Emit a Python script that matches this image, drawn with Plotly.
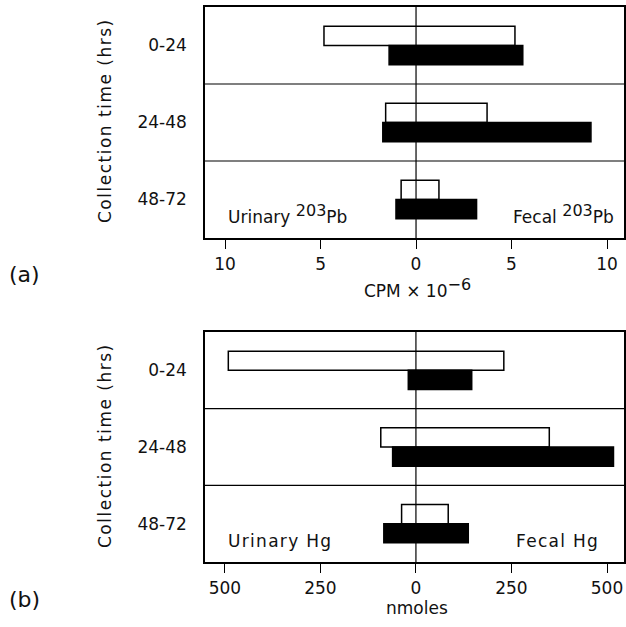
import plotly.graph_objects as go

# ---------------- data ----------------
periods = ["0-24", "24-48", "48-72"]

# panel (a): CPM x 10^-6  (urinary plotted to the left, fecal to the right)
pb_open_urinary = [4.82, 1.59, 0.78]
pb_open_fecal = [5.18, 3.72, 1.20]
pb_filled_urinary = [1.41, 1.74, 1.05]
pb_filled_fecal = [5.59, 9.16, 3.17]

# panel (b): nmoles
hg_open_urinary = [491, 92, 37.5]
hg_open_fecal = [230, 349, 84.5]
hg_filled_urinary = [20, 61, 84]
hg_filled_fecal = [146, 517, 137]

ticks_a = [-10, -5, 0, 5, 10]
ticklabels_a = ["10", "5", "0", "5", "10"]
ticks_b = [-500, -250, 0, 250, 500]
ticklabels_b = ["500", "250", "0", "250", "500"]

FONT = "DejaVu Sans"
TXT = "#111111"
W, H = 626, 627


def px(xp):
    return xp / W


def py(yp):
    return 1 - yp / H


fig = go.Figure()


def add_pair(urin_o, fec_o, urin_f, fec_f, xa, ya):
    fig.add_trace(go.Bar(
        orientation="h", y=periods,
        x=[u + f for u, f in zip(urin_o, fec_o)],
        base=[-u for u in urin_o],
        width=0.25, offset=-0.25,
        marker=dict(color="white", line=dict(color="black", width=1.5)),
        xaxis=xa, yaxis=ya, showlegend=False, hoverinfo="skip"))
    fig.add_trace(go.Bar(
        orientation="h", y=periods,
        x=[u + f for u, f in zip(urin_f, fec_f)],
        base=[-u for u in urin_f],
        width=0.25, offset=0.0,
        marker=dict(color="black", line=dict(color="black", width=1.5)),
        xaxis=xa, yaxis=ya, showlegend=False, hoverinfo="skip"))


add_pair(pb_open_urinary, pb_open_fecal, pb_filled_urinary, pb_filled_fecal, "x", "y")
add_pair(hg_open_urinary, hg_open_fecal, hg_filled_urinary, hg_filled_fecal, "x2", "y2")

xdom = [px(205), px(624)]
tickfont = dict(family=FONT, size=17, color=TXT)

xcommon = dict(domain=xdom, showline=True, mirror=True, linecolor="black", linewidth=1.5,
               ticks="outside", ticklen=9, tickwidth=1.2, tickcolor="black",
               showgrid=False, zeroline=False, tickfont=tickfont, ticklabelstandoff=1,
               fixedrange=True)
ycommon = dict(type="category", categoryorder="array", categoryarray=periods,
               range=[2.5, -0.5], showline=True, mirror=True, linecolor="black",
               linewidth=1.5, ticks="", showgrid=False, zeroline=False,
               tickfont=tickfont, ticklabelstandoff=13, fixedrange=True)

fig.update_layout(
    width=W, height=H, margin=dict(l=0, r=0, t=0, b=0),
    paper_bgcolor="white", plot_bgcolor="white", barmode="overlay",
    xaxis=dict(xcommon, anchor="y", range=[-11.05, 10.89], tickvals=ticks_a, ticktext=ticklabels_a),
    yaxis=dict(ycommon, anchor="x", domain=[py(238), py(7)]),
    xaxis2=dict(xcommon, anchor="y2", range=[-552, 544.5], tickvals=ticks_b, ticktext=ticklabels_b),
    yaxis2=dict(ycommon, anchor="x2", domain=[py(562), py(332)]),
)

shapes = []
for xr, yr in (("x", "y"), ("x2", "y2")):
    shapes.append(dict(type="line", xref=xr, yref=yr + " domain", x0=0, x1=0, y0=0, y1=1,
                       line=dict(color="black", width=1.2), layer="above"))
    for yv in (0.5, 1.5):
        shapes.append(dict(type="line", xref=xr + " domain", yref=yr, x0=0, x1=1, y0=yv, y1=yv,
                           line=dict(color="black", width=1.2), layer="above"))
fig.update_layout(shapes=shapes)

sup = "<sup><span style='font-size:16px'>{}</span></sup>"
lab_font = dict(family=FONT, size=17, color=TXT)
title_font = dict(family=FONT, size=17, color=TXT)
wide = "<span style='letter-spacing:1.3px'>{}</span>"

ann = []
for off in (0, 325):
    ann.append(dict(text="<span style='letter-spacing:1.5px'>Collection time (hrs)</span>",
                    textangle=-90, x=px(105), y=py(121 + off), xref="paper", yref="paper",
                    showarrow=False, font=title_font, xanchor="center", yanchor="middle"))
ann.append(dict(text="(a)", x=px(24), y=py(274), xref="paper", yref="paper", showarrow=False,
                font=dict(family=FONT, size=22, color=TXT), xanchor="center", yanchor="middle"))
ann.append(dict(text="(b)", x=px(24), y=py(599), xref="paper", yref="paper", showarrow=False,
                font=dict(family=FONT, size=22, color=TXT), xanchor="center", yanchor="middle"))
ann.append(dict(text="CPM × 10" + sup.format("−6"), x=px(417), y=py(288), xref="paper", yref="paper",
                showarrow=False, font=title_font, xanchor="center", yanchor="middle"))
ann.append(dict(text="nmoles", x=px(417), y=py(608), xref="paper", yref="paper",
                showarrow=False, font=title_font, xanchor="center", yanchor="middle"))
ann.append(dict(text="Urinary " + sup.format("203") + "Pb", x=px(226), y=py(214), xref="paper",
                yref="paper", showarrow=False, font=lab_font, xanchor="left", yanchor="middle"))
ann.append(dict(text="Fecal " + sup.format("203") + "Pb", x=px(616), y=py(214), xref="paper",
                yref="paper", showarrow=False, font=lab_font, xanchor="right", yanchor="middle"))
ann.append(dict(text=wide.format("Urinary Hg"), x=px(226), y=py(541), xref="paper",
                yref="paper", showarrow=False, font=lab_font, xanchor="left", yanchor="middle"))
ann.append(dict(text=wide.format("Fecal Hg"), x=px(601), y=py(541), xref="paper",
                yref="paper", showarrow=False, font=lab_font, xanchor="right", yanchor="middle"))
fig.update_layout(annotations=ann)

fig.write_html("out.html")
